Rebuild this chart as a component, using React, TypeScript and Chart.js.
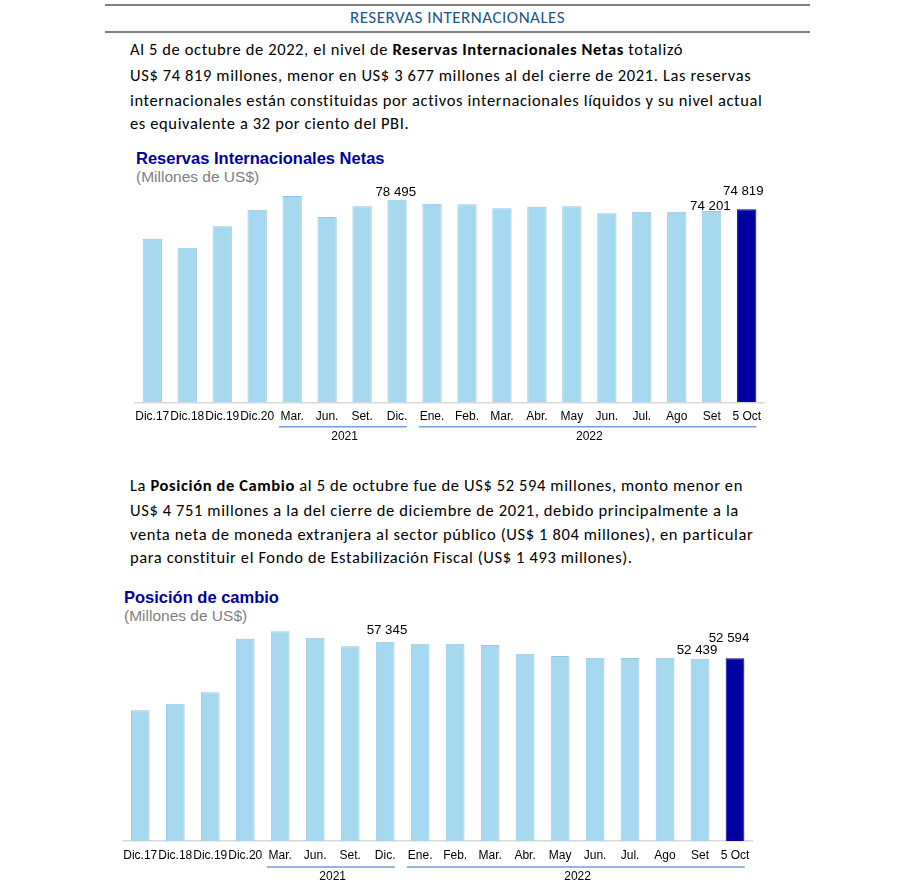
import React, { useEffect, useRef } from 'react';
import { Chart, registerables } from 'chart.js';

Chart.register(...registerables);

// ---------- data ----------
const categories = ['Dic.17', 'Dic.18', 'Dic.19', 'Dic.20', 'Mar.', 'Jun.', 'Set.', 'Dic.', 'Ene.', 'Feb.', 'Mar.', 'Abr.', 'May', 'Jun.', 'Jul.', 'Ago', 'Set', '5 Oct'];
const rinValues = [63440, 59950, 68250, 74690, 80000, 71860, 76010, 78495, 77020, 76780, 75230, 75850, 76010, 73290, 73910, 73910, 74201, 74819];
const posicionValues = [37600, 39500, 42780, 58200, 60330, 58490, 56010, 57345, 56760, 56760, 56390, 53890, 53220, 52740, 52650, 52740, 52439, 52594];
const labeledIndices = [7, 16, 17];
const yearLabels = ['2021', '2022'];
const yearStart = [4, 8];
const yearEnd = [7, 17];

const FONT_SANS = 'Arial, "Liberation Sans", sans-serif';
const FONT_TEXT = 'Carlito, Lato, "Open Sans", sans-serif';
const LIGHT = '#a6d8f0';
const LIGHT_BORDER = '#93c8e6';
const DARK = '#0000a0';

const fmt = (v: number) => String(v).replace(/\B(?=(\d{3})+(?!\d))/g, ' ');

const annotPlugin = {
  id: 'annot',
  afterDatasetsDraw(chart: any, _args: any, opts: any) {
    const ctx = chart.ctx;
    const meta = chart.getDatasetMeta(0);
    const data = chart.data.datasets[0].data as number[];
    ctx.save();
    ctx.font = `${opts.labelSize}px ${FONT_SANS}`;
    ctx.fillStyle = '#000';
    ctx.textAlign = 'center';
    ctx.textBaseline = 'middle';
    labeledIndices.forEach((idx, k) => {
      const el = meta.data[idx];
      ctx.fillText(fmt(data[idx]), el.x + opts.labelDx[k], el.y - opts.labelDy[k]);
    });
    const xs = chart.scales.x;
    const base = chart.chartArea.bottom;
    ctx.strokeStyle = '#6f9fdc';
    ctx.lineWidth = 1.5;
    ctx.font = `12px ${FONT_SANS}`;
    yearLabels.forEach((yr, k) => {
      const x0 = xs.getPixelForValue(yearStart[k] - 0.38);
      const x1 = xs.getPixelForValue(yearEnd[k] + 0.28);
      ctx.beginPath();
      ctx.moveTo(x0, base + opts.bracketY);
      ctx.lineTo(x1, base + opts.bracketY);
      ctx.stroke();
      const xm = (xs.getPixelForValue(yearStart[k]) + xs.getPixelForValue(yearEnd[k])) / 2;
      ctx.fillText(yr, xm, base + opts.yearY);
    });
    ctx.restore();
  },
};

type BarProps = {
  values: number[];
  top: number;
  height: number;
  padLeft: number;
  padRight: number;
  padTop: number;
  axisHeight: number;
  yMax: number;
  barPct: number;
  labelDx: number[];
  labelDy: number[];
  bracketY: number;
  yearY: number;
};

function BarChart(p: BarProps) {
  const ref = useRef<HTMLCanvasElement>(null);
  useEffect(() => {
    if (!ref.current) return;
    const colors = p.values.map((_, i) => (i === p.values.length - 1 ? DARK : LIGHT));
    const borders = p.values.map((_, i) => (i === p.values.length - 1 ? DARK : LIGHT_BORDER));
    const chart = new Chart(ref.current, {
      type: 'bar',
      data: {
        labels: categories,
        datasets: [
          {
            data: p.values,
            backgroundColor: colors,
            borderColor: borders,
            borderWidth: 1,
            barPercentage: p.barPct,
            categoryPercentage: 1,
          },
        ],
      },
      options: {
        animation: false,
        responsive: true,
        maintainAspectRatio: false,
        layout: { padding: { left: p.padLeft, right: p.padRight, top: p.padTop, bottom: 0 } },
        plugins: {
          legend: { display: false },
          tooltip: { enabled: false },
          annot: { labelSize: 13.3, labelDx: p.labelDx, labelDy: p.labelDy, bracketY: p.bracketY, yearY: p.yearY },
        } as any,
        scales: {
          x: {
            grid: { display: false, drawTicks: false },
            border: { display: true, color: '#d9d9d9', width: 1.5 },
            ticks: { autoSkip: false, maxRotation: 0, minRotation: 0, padding: 7, color: '#000', font: { family: FONT_SANS, size: 12 } },
            afterFit: (scale: any) => {
              scale.height = p.axisHeight;
            },
          },
          y: { display: false, min: 0, max: p.yMax },
        },
      },
      plugins: [annotPlugin],
    });
    return () => chart.destroy();
  }, []);
  return (
    <div style={{ position: 'absolute', left: 0, top: p.top, width: 900, height: p.height }}>
      <canvas ref={ref} />
    </div>
  );
}

const abs = (top: number, left: number, extra: React.CSSProperties = {}): React.CSSProperties => ({
  position: 'absolute',
  top,
  left,
  whiteSpace: 'nowrap',
  ...extra,
});

const pStyle: React.CSSProperties = { fontFamily: FONT_TEXT, fontSize: 16.5, letterSpacing: '0.62px', lineHeight: '20px', color: '#000' };
const titleStyle: React.CSSProperties = { fontFamily: FONT_SANS, fontSize: 16.5, fontWeight: 'bold', color: '#0000a0', lineHeight: '20px' };
const subStyle: React.CSSProperties = { fontFamily: FONT_SANS, fontSize: 15.5, color: '#808080', lineHeight: '20px' };

export default function App() {
  return (
    <div style={{ position: 'absolute', left: 0, top: 0, width: 900, height: 892, background: '#fff', overflow: 'hidden' }}>
      <div style={{ position: 'absolute', left: 105, top: 4, width: 705, height: 2, background: '#808080' }} />
      <div style={{ position: 'absolute', left: 105, top: 8, width: 705, lineHeight: '20px', textAlign: 'center', fontFamily: FONT_TEXT, fontSize: 17, letterSpacing: '0.5px', color: '#1b5589' }}>
        RESERVAS INTERNACIONALES
      </div>
      <div style={{ position: 'absolute', left: 105, top: 31, width: 705, height: 2, background: '#808080' }} />

      <div style={{ ...abs(39, 130), ...pStyle }}>
        Al 5 de octubre de 2022, el nivel de <b>Reservas Internacionales Netas</b> totalizó
      </div>
      <div style={{ ...abs(65, 130), ...pStyle }}>
        US$ 74 819 millones, menor en US$ 3 677 millones al del cierre de 2021. Las reservas
      </div>
      <div style={{ ...abs(90, 130), ...pStyle }}>
        internacionales están constituidas por activos internacionales líquidos y su nivel actual
      </div>
      <div style={{ ...abs(113, 130), ...pStyle }}>es equivalente a 32 por ciento del PBI.</div>

      <div style={{ ...abs(148, 136), ...titleStyle }}>Reservas Internacionales Netas</div>
      <div style={{ ...abs(167, 136), ...subStyle }}>(Millones de US$)</div>

      <BarChart
        values={rinValues}
        top={150}
        height={300}
        padLeft={134.8}
        padRight={135.8}
        padTop={30}
        axisHeight={47.7}
        yMax={86200}
        barPct={0.552}
        labelDx={[-1.3, -1.4, -3.4]}
        labelDy={[8, 5, 18]}
        bracketY={24.4}
        yearY={34.4}
      />

      <div style={{ ...abs(475, 130), ...pStyle }}>
        La <b>Posición de Cambio</b> al 5 de octubre fue de US$ 52 594 millones, monto menor en
      </div>
      <div style={{ ...abs(500, 130), ...pStyle }}>
        US$ 4 751 millones a la del cierre de diciembre de 2021, debido principalmente a la
      </div>
      <div style={{ ...abs(524, 130), ...pStyle }}>
        venta neta de moneda extranjera al sector público (US$ 1 804 millones), en particular
      </div>
      <div style={{ ...abs(547, 130), ...pStyle }}>
        para constituir el Fondo de Estabilización Fiscal (US$ 1 493 millones).
      </div>

      <div style={{ ...abs(587, 124), ...titleStyle }}>Posición de cambio</div>
      <div style={{ ...abs(606, 124), ...subStyle }}>(Millones de US$)</div>

      <BarChart
        values={posicionValues}
        top={590}
        height={300}
        padLeft={122.8}
        padRight={147.5}
        padTop={30}
        axisHeight={49}
        yMax={63600}
        barPct={0.535}
        labelDx={[1.8, -3, -6]}
        labelDy={[11.7, 8, 20]}
        bracketY={26}
        yearY={36}
      />
    </div>
  );
}
